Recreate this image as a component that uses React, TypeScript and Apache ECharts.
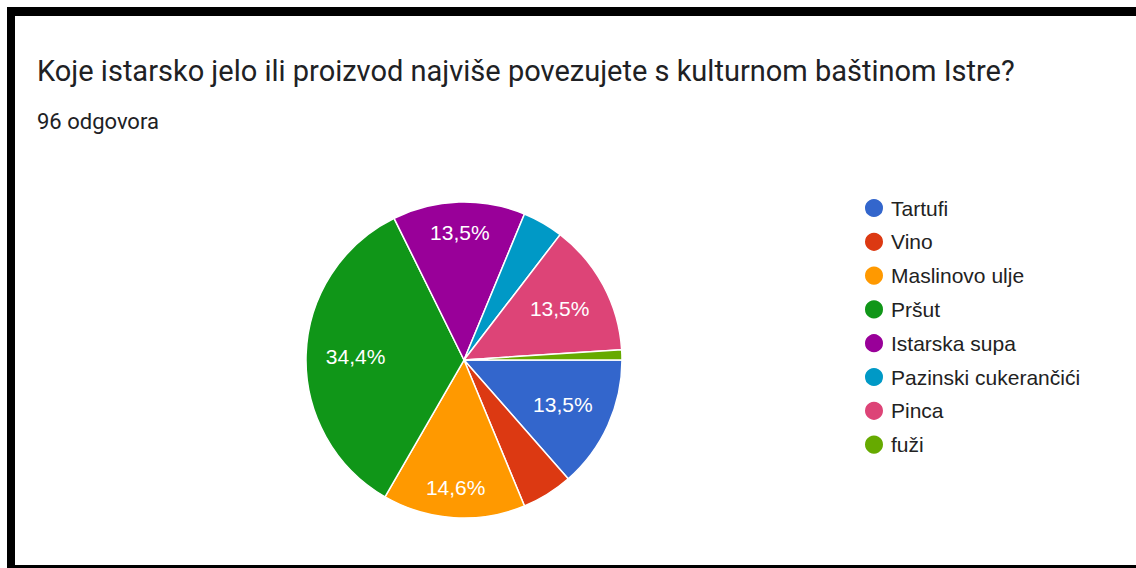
import React, { useEffect, useRef } from "react";
import * as echarts from "echarts";

const TITLE = "Koje istarsko jelo ili proizvod najviše povezujete s kulturnom baštinom Istre?";
const SUBTITLE = "96 odgovora";
const categories = ["Tartufi", "Vino", "Maslinovo ulje", "Pršut", "Istarska supa", "Pazinski cukerančići", "Pinca", "fuži"];
const responses = [13, 5, 14, 33, 13, 4, 13, 1];
const colors = ["#3366cc", "#dc3912", "#ff9900", "#109618", "#990099", "#0099c6", "#dd4477", "#66aa00"];
// which slices carry a percentage label, and at what depth
const labelsInner = ["Tartufi", "Pršut", "Pinca"];
const labelsOuter = ["Maslinovo ulje", "Istarska supa"];

const total = responses.reduce((a, b) => a + b, 0);
const pct = (v: number) => (v / total * 100).toFixed(1).replace(".", ",") + "%";

const CENTER = [464, 360];
const R = 158;

function labelSeries(names: string[], innerR: number) {
  return {
    type: "pie",
    silent: true,
    center: CENTER,
    radius: [innerR, R],
    startAngle: 0,
    clockwise: true,
    z: 5,
    itemStyle: { color: "rgba(0,0,0,0)", borderWidth: 0 },
    labelLine: { show: false },
    emphasis: { disabled: true },
    data: categories.map((c, i) => ({
      value: responses[i],
      name: "",
      label: {
        show: names.includes(c),
        position: "inside",
        formatter: pct(responses[i]),
        color: "#ffffff",
        fontFamily: "Liberation Sans, Arial, sans-serif",
        fontSize: 21,
      },
    })),
  };
}

export default function App() {
  const ref = useRef<HTMLDivElement>(null);
  useEffect(() => {
    if (!ref.current) return;
    const chart = echarts.init(ref.current, undefined, { renderer: "svg" });
    chart.setOption({
      animation: false,
      backgroundColor: "#ffffff",
      color: colors,
      legend: {
        orient: "vertical",
        left: 858,
        top: 192,
        itemWidth: 20,
        itemHeight: 20,
        itemGap: 11.8,
        icon: "circle",
        selectedMode: false,
        data: categories,
        textStyle: {
          fontFamily: "Liberation Sans, Arial, sans-serif",
          fontSize: 21,
          color: "#222222",
          padding: [0, 0, 0, 2],
        },
      },
      graphic: [
        { type: "rect", shape: { x: 7, y: 7, width: 1129, height: 9 }, style: { fill: "#000" } },
        { type: "rect", shape: { x: 7, y: 7, width: 8, height: 561 }, style: { fill: "#000" } },
        { type: "rect", shape: { x: 7, y: 565, width: 1129, height: 3 }, style: { fill: "#000" } },
        {
          type: "text",
          x: 37,
          y: 71,
          style: { text: TITLE, font: "29px Roboto", fill: "#202124", verticalAlign: "middle", align: "left" },
        },
        {
          type: "text",
          x: 37,
          y: 121,
          style: { text: SUBTITLE, font: "22px Roboto", fill: "#202124", verticalAlign: "middle", align: "left" },
        },
      ],
      series: [
        {
          type: "pie",
          center: CENTER,
          radius: [0, R],
          startAngle: 0,
          clockwise: true,
          label: { show: false },
          labelLine: { show: false },
          emphasis: { disabled: true },
          itemStyle: { borderColor: "#ffffff", borderWidth: 1.5 },
          data: categories.map((c, i) => ({ name: c, value: responses[i] })),
        },
        labelSeries(labelsInner, 53),
        labelSeries(labelsOuter, 91),
      ],
    });
    return () => chart.dispose();
  }, []);
  return <div ref={ref} style={{ position: "fixed", left: 0, top: 0, width: 1136, height: 568 }} />;
}
